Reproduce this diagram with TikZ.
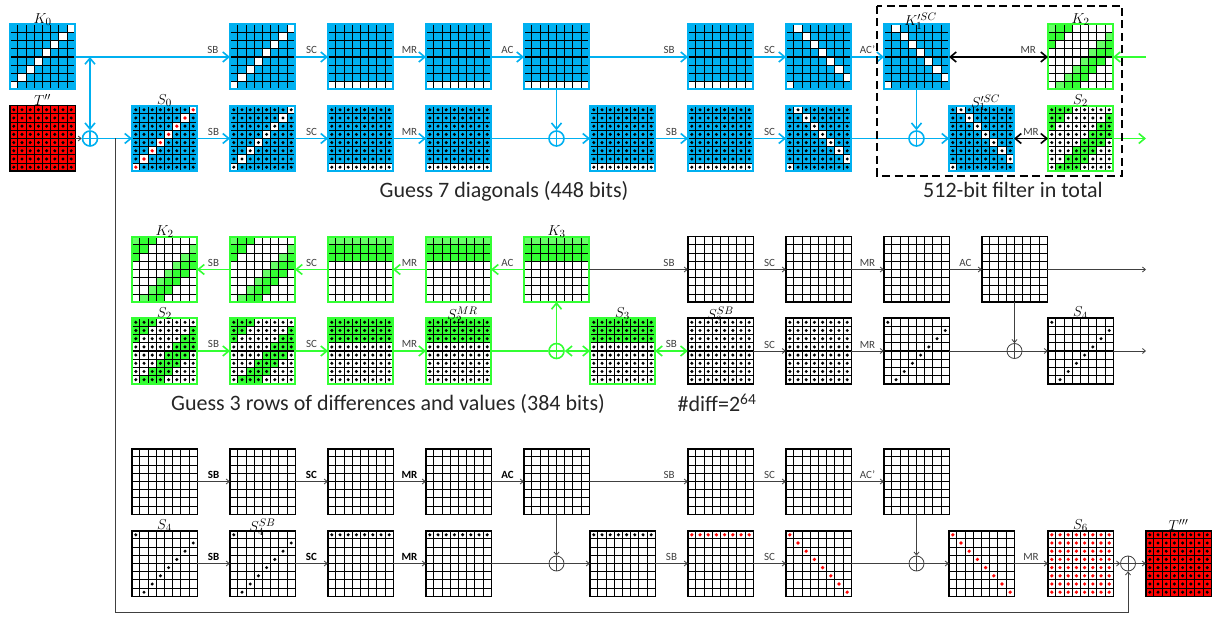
\documentclass[tikz,border=0pt]{standalone}
\usepackage{fontspec}
\setmainfont{Carlito}
\usepackage{tikz}
\usetikzlibrary{arrows.meta,positioning}
\definecolor{sky}{HTML}{00B0F0}
\definecolor{leaf}{HTML}{33FF33}
\definecolor{paleleaf}{HTML}{66FF66}
\definecolor{wire}{HTML}{404040}
\def\antidiag{(\ro+\co==7)}
\def\shiftdiag{(mod(\co-\ro+7,8)==0)}
\def\mainrow{(\ro==7)}
\def\toprow{(\ro==0)}
\def\maindiag{(\ro==\co)}
\def\threediag{(mod(\ro+\co,8)<=2)}
\def\firstdiag{(mod(\ro+\co,8)==0)}
\def\threerows{(\ro<=2)}
\tikzset{
  hi/.store in=\hitest, lite/.store in=\litetest,
  dot/.store in=\dottest, reddot/.store in=\redtest,
  base/.store in=\basecol, hicol/.store in=\hicolor,
  rim/.store in=\rimcol, rimw/.store in=\rimwidth,
  bluemat/.style={base=sky,hicol=white,rim=sky,rimw=2pt},
  greenmat/.style={base=white,hicol=leaf,rim=leaf,rimw=2pt},
  plainmat/.style={base=white,hicol=white,rim=black,rimw=1.5pt},
  redmat/.style={base=red,hicol=red,rim=black,rimw=1.5pt},
  bline/.style={draw=sky,line width=1.6pt},
  gline/.style={draw=leaf,line width=1.6pt},
  kline/.style={draw=black,line width=1.6pt},
  tline/.style={draw=wire,line width=.8pt,>={Straight Barb[length=3pt,width=5pt]}},
  op/.style={above=1.5pt,font=\fontsize{11}{12}\selectfont,text=wire,inner sep=1pt},
  opb/.style={above=1.5pt,font=\fontsize{11}{12}\selectfont\bfseries,text=black,inner sep=1pt},
  lab/.style={font=\fontsize{15}{16}\selectfont,text=black,inner sep=0pt},
  caption/.style={font=\fontsize{22}{24}\selectfont,text=black!85,inner sep=0pt},
  xorb/.style={circle,draw,inner sep=0pt,minimum size=15pt,
    path picture={\draw[line width=\pgflinewidth]
      (path picture bounding box.north) -- (path picture bounding box.south)
      (path picture bounding box.west) -- (path picture bounding box.east);}},
}
% one 8x8 state: name, left, top
\newcommand{\statebox}[4][]{
  \begin{scope}[hi=0,lite=0,dot=0,reddot=0,#1]
    \fill[\basecol] (#3,#4) rectangle ++(67,67);
    \foreach \ro in {0,...,7}
      \foreach \co in {0,...,7} {
        \pgfmathtruncatemacro\ishi{\hitest}
        \pgfmathtruncatemacro\islite{\litetest}
        \pgfmathtruncatemacro\isdot{\dottest}
        \pgfmathtruncatemacro\isred{\redtest}
        \pgfmathsetmacro\cx{#3+.7+8.2*\co}
        \pgfmathsetmacro\cy{#4+.7+8.2*\ro}
        \ifnum\ishi=1
          \ifnum\islite=1 \fill[paleleaf] (\cx,\cy) rectangle ++(8.2,8.2);
          \else \fill[\hicolor] (\cx,\cy) rectangle ++(8.2,8.2); \fi
        \fi
        \ifnum\isred=1 \fill[red] (\cx+4.1,\cy+4.1) circle (1.8);
        \else \ifnum\isdot=1 \fill[black] (\cx+4.1,\cy+4.1) circle (1.7); \fi \fi
      }
    \foreach \k in {1,...,7} {
      \draw[line width=1.1pt] ({#3+.7+8.2*\k},#4) -- ++(0,67);
      \draw[line width=1.1pt] (#3,{#4+.7+8.2*\k}) -- ++(67,0);
    }
    \node[draw=\rimcol,line width=\rimwidth,minimum size=67pt-\rimwidth,inner sep=0pt,outer sep=0pt] (#2) at ({#3+33.5},{#4+33.5}) {};
  \end{scope}
}

\begin{document}
\begin{tikzpicture}[x=1pt,y=-1pt,>={Straight Barb[length=6pt,width=10pt]}]
  \useasboundingbox (0,0) rectangle (1215,617);

  % first block
  \statebox[bluemat,hi=\antidiag]{K0}{9}{23.5}
  \statebox[bluemat,hi=\antidiag]{a1}{229}{23.5}
  \statebox[bluemat,hi=\mainrow]{a2}{327}{23.5}
  \statebox[bluemat,hi=\mainrow]{a3}{425}{23.5}
  \statebox[bluemat,hi=\mainrow]{a4}{523}{23.5}
  \statebox[bluemat,hi=\mainrow]{a5}{687}{23.5}
  \statebox[bluemat,hi=\shiftdiag]{a6}{785}{23.5}
  \statebox[bluemat,hi=\shiftdiag]{K1}{883}{23.5}
  \statebox[greenmat,hi=\threediag,lite=\firstdiag]{K2a}{1047}{23.5}
  \statebox[redmat,dot=1]{Tin}{9}{105}
  \statebox[bluemat,hi=\antidiag,dot=1,reddot=\antidiag]{S0}{131}{105}
  \statebox[bluemat,hi=\antidiag,dot=1]{b1}{229}{105}
  \statebox[bluemat,hi=\mainrow,dot=1]{b2}{327}{105}
  \statebox[bluemat,hi=\mainrow,dot=1]{b3}{425}{105}
  \statebox[bluemat,hi=\mainrow,dot=1]{b4}{589}{105}
  \statebox[bluemat,hi=\mainrow,dot=1]{b5}{687}{105}
  \statebox[bluemat,hi=\shiftdiag,dot=1]{b6}{785}{105}
  \statebox[bluemat,hi=\shiftdiag,dot=1]{S1}{948}{105}
  \statebox[greenmat,hi=\threediag,dot=1]{S2a}{1047}{105}

  % second block
  \statebox[greenmat,hi=\threediag,lite=\firstdiag]{K2b}{131}{236}
  \statebox[greenmat,hi=\threediag,lite=\firstdiag]{c1}{229}{236}
  \statebox[greenmat,hi=\threerows,lite=\toprow]{c2}{327}{236}
  \statebox[greenmat,hi=\threerows,lite=\toprow]{c3}{425}{236}
  \statebox[greenmat,hi=\threerows,lite=\toprow]{K3}{523}{236}
  \statebox[plainmat]{c5}{687}{236}
  \statebox[plainmat]{c6}{785}{236}
  \statebox[plainmat]{c7}{883}{236}
  \statebox[plainmat]{c8}{981}{236}
  \statebox[greenmat,hi=\threediag,dot=1]{S2b}{131}{317.5}
  \statebox[greenmat,hi=\threediag,dot=1]{d1}{229}{317.5}
  \statebox[greenmat,hi=\threerows,dot=1]{d2}{327}{317.5}
  \statebox[greenmat,hi=\threerows,dot=1]{S2M}{425}{317.5}
  \statebox[greenmat,hi=\threerows,dot=1]{S3}{589}{317.5}
  \statebox[plainmat,dot=1]{S3B}{687}{317.5}
  \statebox[plainmat,dot=1]{d6}{785}{317.5}
  \statebox[plainmat,dot=\firstdiag]{d7}{883}{317.5}
  \statebox[plainmat,dot=\firstdiag]{S4a}{1047}{317.5}

  % third block
  \statebox[plainmat]{e1}{131}{448}
  \statebox[plainmat]{e2}{229}{448}
  \statebox[plainmat]{e3}{327}{448}
  \statebox[plainmat]{e4}{425}{448}
  \statebox[plainmat]{e5}{523}{448}
  \statebox[plainmat]{e6}{687}{448}
  \statebox[plainmat]{e7}{785}{448}
  \statebox[plainmat]{e8}{883}{448}
  \statebox[plainmat,dot=\firstdiag]{S4b}{131}{530}
  \statebox[plainmat,dot=\firstdiag]{S4B}{229}{530}
  \statebox[plainmat,dot=\toprow]{f2}{327}{530}
  \statebox[plainmat,dot=\toprow]{f3}{425}{530}
  \statebox[plainmat,dot=\toprow]{f4}{589}{530}
  \statebox[plainmat,reddot=\toprow]{f5}{687}{530}
  \statebox[plainmat,reddot=\maindiag]{f6}{785}{530}
  \statebox[plainmat,reddot=\maindiag]{f7}{948}{530}
  \statebox[plainmat,reddot=1]{S6}{1047}{530}
  \statebox[redmat,dot=1]{Tout}{1145}{530}

  % xors and free ends
  \node[xorb,draw=sky,line width=1.6pt] (x1) at (90,138.5) {};
  \node[xorb,draw=sky,line width=1.6pt] (x2) at (556.5,138.5) {};
  \node[xorb,draw=sky,line width=1.6pt] (x3) at (916.5,138.5) {};
  \node[xorb,draw=leaf,line width=1.6pt] (x4) at (556.5,351) {};
  \node[xorb,draw=wire,line width=.8pt] (x5) at (1014.5,351) {};
  \node[xorb,draw=wire,line width=.8pt] (x6) at (556.5,563.5) {};
  \node[xorb,draw=wire,line width=.8pt] (x7) at (916.5,563.5) {};
  \node[xorb,draw=wire,line width=.8pt] (x8) at (1128,563.5) {};
  \coordinate (br) at (90,57);
  \coordinate (feedK) at (1146,57);
  \coordinate (outS) at (1146,138.5);
  \coordinate (outc) at (1146,269.5);
  \coordinate (outd) at (1146,351);
  \coordinate (tap) at (115,138.5);
  \coordinate (low) at (115,612);
  \coordinate (lowr) at (1128,612);

  % blue rounds
  \path[bline,->] (K0) edge node[op,pos=.89] {SB} (a1)
    (a1) edge node[op] {SC} (a2)
    (a2) edge node[op] {MR} (a3)
    (a3) edge node[op] {AC} (a4)
    (a4) edge node[op,pos=.81] {SB} (a5)
    (a5) edge node[op] {SC} (a6)
    (a6) edge node[op] {AC'} (K1)
    (br) edge (x1)
    (x1) edge (S0)
    (S0) edge node[op] {SB} (b1)
    (b1) edge node[op] {SC} (b2)
    (b2) edge node[op] {MR} (b3)
    (a4) edge (x2)
    (x2) edge (b4)
    (b4) edge node[op] {SB} (b5)
    (b5) edge node[op] {SC} (b6)
    (K1) edge (x3)
    (x3) edge (S1);
  \path[bline] (b3) edge (x2) (b6) edge (x3);
  \path[tline,->] (Tin) edge (x1);
  \path[kline,<->] (K1) edge node[op,pos=.8,text=black!75] {MR} (K2a)
    (S1) edge node[op,text=black!75] {MR} (S2a);
  \draw[gline,->] (feedK) -- (K2a);
  \draw[gline,->] (S2a) -- (outS);

  % green rounds
  \path[gline,->] (c1) edge node[op] {SB} (K2b)
    (c2) edge node[op] {SC} (c1)
    (c3) edge node[op] {MR} (c2)
    (K3) edge node[op] {AC} (c3)
    (S2b) edge node[op] {SB} (d1)
    (d1) edge node[op] {SC} (d2)
    (d2) edge node[op] {MR} (S2M)
    (x4) edge (K3);
  \path[gline] (S2M) edge (x4);
  \path[gline,<->] (x4) edge (S3)
    (S3) edge node[op] {SB} (S3B);

  % thin rounds
  \path[tline,->] (K3) edge node[op,pos=.81] {SB} (c5)
    (c5) edge node[op] {SC} (c6)
    (c6) edge node[op] {MR} (c7)
    (c7) edge node[op] {AC} (c8)
    (c8) edge (outc)
    (S3B) edge node[op] {SC} (d6)
    (d6) edge node[op] {MR} (d7)
    (c8) edge (x5)
    (x5) edge (S4a)
    (S4a) edge (outd)
    (e1) edge node[opb] {SB} (e2)
    (e2) edge node[opb] {SC} (e3)
    (e3) edge node[opb] {MR} (e4)
    (e4) edge node[opb] {AC} (e5)
    (e5) edge node[op,pos=.81] {SB} (e6)
    (e6) edge node[op] {SC} (e7)
    (e7) edge node[op] {AC'} (e8)
    (S4b) edge node[opb] {SB} (S4B)
    (S4B) edge node[opb] {SC} (f2)
    (f2) edge node[opb] {MR} (f3)
    (e5) edge (x6)
    (x6) edge (f4)
    (f4) edge node[op] {SB} (f5)
    (f5) edge node[op] {SC} (f6)
    (e8) edge (x7)
    (x7) edge (f7)
    (f7) edge node[op] {MR} (S6)
    (S6) edge (x8)
    (x8) edge (Tout);
  \path[tline] (d7) edge (x5) (f3) edge (x6) (f6) edge (x7);
  \draw[tline,->] (tap) -- (low) -- (lowr) -- (x8);

  % filter frame
  \draw[line width=1.7pt,dash pattern=on 8pt off 4.5pt] (877,6) rectangle (1122,176);

  % state names
  \node[lab,above=-1pt of K0] (lK0) {$K_0$};
  \node[lab,above=0pt of Tin] (lTin) {$T''$};
  \node[lab,above=-1pt of S0] (lS0) {$S_0$};
  \node[lab,above=-5pt of K1,xshift=4pt] (lK1) {$K_1^{\prime SC}$};
  \node[lab,above=-5pt of S1,xshift=4pt] (lS1) {$S_1^{\prime SC}$};
  \node[lab,above=-1pt of K2a] (lK2a) {$K_2$};
  \node[lab,above=-1pt of S2a] (lS2a) {$S_2$};
  \node[lab,above=-1pt of K2b] (lK2b) {$K_2$};
  \node[lab,above=-1pt of S2b] (lS2b) {$S_2$};
  \node[lab,above=-5pt of S2M,xshift=4pt] (lS2M) {$S_2^{MR}$};
  \node[lab,above=-1pt of K3] (lK3) {$K_3$};
  \node[lab,above=-1pt of S3] (lS3) {$S_3$};
  \node[lab,above=-5pt of S3B] (lS3B) {$S_3^{SB}$};
  \node[lab,above=-1pt of S4a] (lS4a) {$S_4$};
  \node[lab,above=-1pt of S4b] (lS4b) {$S_4$};
  \node[lab,above=-5pt of S4B] (lS4B) {$S_4^{SB}$};
  \node[lab,above=-1pt of S6] (lS6) {$S_6$};
  \node[lab,above=0pt of Tout] (lTout) {$T'''$};

  % captions
  \node[caption] (guess1) at (504,191) {Guess 7 diagonals (448 bits)};
  \node[caption] (filter) at (1013,190) {512-bit filter in total};
  \node[caption] (guess2) at (388,404) {Guess 3 rows of differences and values (384 bits)};
  \node[caption] (diff) at (717,403) {\#diff=2\textsuperscript{64}};
\end{tikzpicture}
\end{document}
